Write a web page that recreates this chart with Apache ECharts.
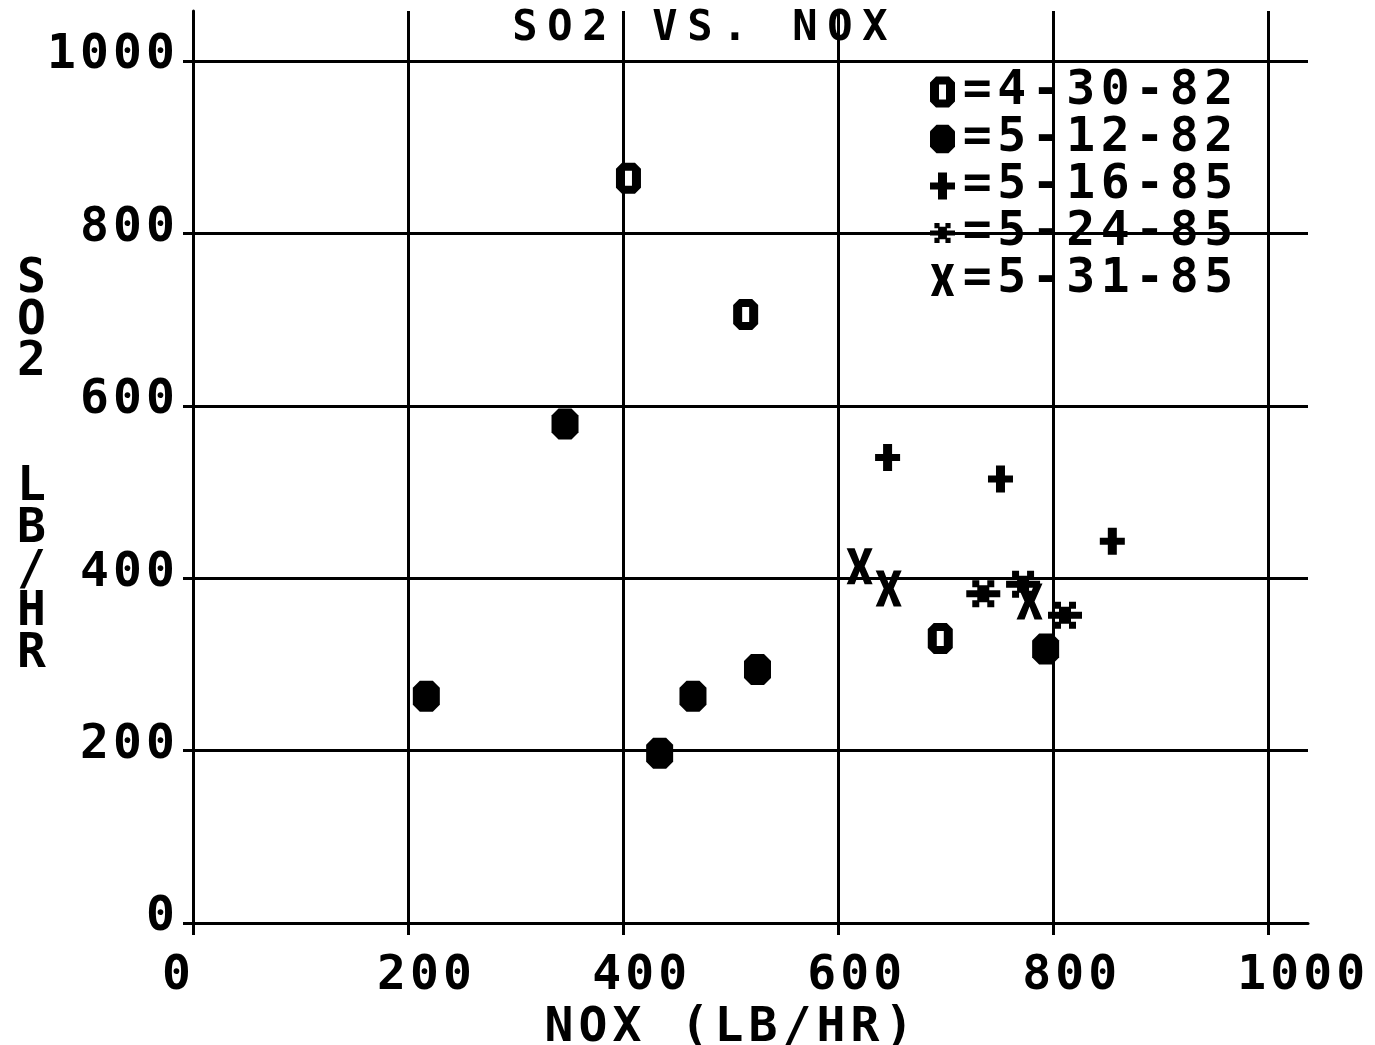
<!DOCTYPE html>
<html><head><meta charset="utf-8">
<script src="https://cdn.jsdelivr.net/npm/echarts@6/dist/echarts.min.js"></script>
<style>html,body{margin:0;padding:0;background:#fff}#c{width:1375px;height:1045px}</style>
</head><body><div id="c"></div>
<script>
// ---- data ----
const xTicks = [0, 200, 400, 600, 800, 1000];
const yTicks = [0, 200, 400, 600, 800, 1000];
const seriesNames = ['4-30-82', '5-12-82', '5-16-85', '5-24-85', '5-31-85'];
const data0430 = [[405, 864], [514, 706], [695, 330]];
const data0512 = [[217, 263], [346, 579], [434, 197], [465, 263], [525, 294], [793, 318]];
const data0516 = [[646, 540], [751, 515], [855, 443]];
const data0524 = [[735, 382], [772, 393], [811, 357]];
const data0531 = [[620, 414], [647, 388], [778, 373]];
const titleText = 'SO2 VS. NOX';
const xName = 'NOX (LB/HR)';
const yName = 'S\nO\n2\n\n\nL\nB\n/\nH\nR';

// ---- styling ----
const FONT = 'DejaVu Sans Mono';
const INK = '#000';
const symbols = [
  'path://M6,0H19L25,6V25L19,31H6L0,25V6ZM9,8V23H16V8Z',
  'path://M7,0H20L27,7V24L20,31H7L0,24V7Z',
  'path://M8,0H17V10H25V17H17V27H8V17H0V10H8Z',
  'path://M0,10H34V17H0ZM6,0H13V7H6ZM21,0H28V7H21ZM6,20H13V27H6ZM21,20H28V27H21ZM11,5H23V22H11Z',
  'path://M0,0H8L13,13L18,0H26L18,18L26,36H18L13,23L8,36H0L8,18Z'
];
const symbolSizes = [[25, 31], [27, 31], [25, 27], [34, 27], [26, 36]];
const seriesData = [data0430, data0512, data0516, data0524, data0531];

function spread(s) {
  return String(s).split('').map(ch => '{c|' + (ch === ' ' ? '\u00a0' : ch) + '}').join('');
}
function cell(size, w, lh) {
  return { c: { fontFamily: FONT, fontWeight: 'bold', fontSize: size, width: w, align: 'center', lineHeight: lh, color: INK } };
}

const chart = echarts.init(document.getElementById('c'), null, { renderer: 'canvas' });
chart.setOption({
  animation: false,
  backgroundColor: '#fff',
  title: {
    text: spread(titleText),
    left: 700, top: 12, padding: 0, textAlign: 'center',
    textStyle: { rich: cell(42, 35, 34) }
  },
  legend: {
    orient: 'vertical', left: 930, top: 68, padding: 0,
    itemWidth: 25, itemHeight: 32, itemGap: -1,
    selectedMode: false,
    data: seriesNames.map((n, i) => ({ name: n, icon: symbols[i] })),
    formatter: n => spread('=' + n),
    textStyle: { rich: cell(48, 34.5, 40) },
    itemStyle: { color: INK }
  },
  grid: { left: 193, right: 67, top: 11, bottom: 122, containLabel: false, outerBoundsMode: 'none' },
  xAxis: {
    type: 'value', min: 0, max: 1037, interval: 200,
    name: spread(xName), nameLocation: 'middle', nameGap: 86, nameMoveOverlap: false,
    nameTextStyle: { rich: cell(48, 34, 40), padding: [0, 43, 0, 0] },
    axisLine: { show: true, onZero: false, lineStyle: { color: INK, width: 3 } },
    axisTick: { show: true, inside: false, length: 12, customValues: xTicks, lineStyle: { color: INK, width: 3 } },
    axisLabel: {
      customValues: xTicks, margin: 34, align: 'left',
      padding: [0, 0, 0, -33],
      formatter: v => spread(v), rich: cell(48, 33, 40)
    },
    splitLine: { show: true, lineStyle: { color: INK, width: 3 } }
  },
  yAxis: {
    type: 'value', min: 0, max: 1058, interval: 200,
    name: yName, nameLocation: 'middle', nameRotate: 0, nameGap: 147, nameMoveOverlap: false,
    nameTextStyle: { fontFamily: FONT, fontWeight: 'bold', fontSize: 48, lineHeight: 41.7, color: INK, align: 'right' },
    axisLine: { show: true, onZero: false, lineStyle: { color: INK, width: 3 } },
    axisTick: { show: true, inside: false, length: 10, customValues: yTicks, lineStyle: { color: INK, width: 3 } },
    axisLabel: {
      customValues: yTicks, margin: 16,
      padding: [0, 0, 10, 0],
      formatter: v => spread(v), rich: cell(48, 33, 40)
    },
    splitLine: { show: true, lineStyle: { color: INK, width: 3 } }
  },
  series: seriesNames.map((n, i) => ({
    name: n, type: 'scatter',
    symbol: symbols[i], symbolSize: symbolSizes[i],
    itemStyle: { color: INK, opacity: 1 },
    emphasis: { disabled: true },
    z: 3,
    data: seriesData[i]
  }))
});
</script>
</body></html>
